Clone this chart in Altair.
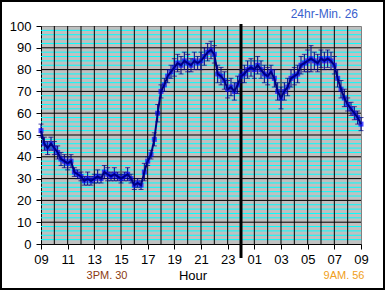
import altair as alt
import pandas as pd

# Hours since 09:00, every 15 minutes
times = [i * 0.25 for i in range(97)]
values = [52, 46, 44, 46, 44, 42, 39, 38, 37, 38, 33, 32, 31, 29, 30, 29,
          30, 31, 30, 33, 32, 31, 32, 31, 30, 31, 32, 30, 27, 28, 27, 33,
          38, 41, 48, 60, 70, 73, 77, 79, 81, 83, 82, 84, 83, 82, 84, 83,
          84, 86, 88, 89, 87, 78, 77, 75, 71, 72, 70, 73, 77, 78, 80, 81,
          80, 82, 80, 78, 77, 79, 76, 70, 67, 70, 72, 76, 77, 78, 82, 83,
          84, 85, 84, 83, 85, 84, 85, 84, 82, 76, 71, 67, 64, 62, 60, 58, 55]
spread = [3, 3, 3, 3, 3, 3, 3, 3, 3, 3, 2, 2, 2, 2, 3, 2,
          2, 3, 2, 3, 3, 2, 3, 2, 2, 2, 3, 2, 2, 2, 2, 4,
          2, 2, 3, 4, 3, 3, 3, 3, 4, 4, 4, 4, 4, 3, 4, 3,
          4, 4, 4, 4, 4, 4, 4, 4, 4, 4, 4, 4, 3, 4, 4, 4,
          4, 4, 4, 4, 4, 3, 4, 4, 5, 4, 4, 4, 4, 4, 4, 4,
          5, 6, 4, 4, 4, 4, 4, 4, 4, 4, 4, 4, 3, 3, 3, 3, 3]

x_ticks = list(range(0, 25, 2))
y_ticks = list(range(0, 101, 10))
hour_lines = list(range(1, 24))
midnight = [15]
y_major = list(range(10, 100, 10))
y_minor = [v for v in range(2, 100, 2) if v % 10 != 0]

df = pd.DataFrame({"t": times, "v": values, "s": spread})
df["lo"] = df["v"] - df["s"]
df["hi"] = df["v"] + df["s"]

xs = alt.Scale(domain=[0, 24], nice=False)
ys = alt.Scale(domain=[0, 100], nice=False)

label_expr = ("(((9 + datum.value) % 24) < 10 ? '0' : '') + ((9 + datum.value) % 24)")
x_axis = alt.Axis(
    values=x_ticks, labelExpr=label_expr, title=None, grid=False, labelOverlap=False,
    labelFlush=False, domainColor="#000000", tickColor="#000000", tickSize=5, labelPadding=4,
    labelFontSize=13, labelColor="#000000", labelFont="Liberation Sans")
y_axis = alt.Axis(
    values=y_ticks, title=None, grid=False, labelOverlap=False, labelFlush=False,
    domainColor="#000000", tickColor="#000000", tickSize=5, labelPadding=5,
    labelFontSize=13, labelColor="#000000", labelFont="Liberation Sans")


def X(f):
    return alt.X(f, type="quantitative", scale=xs, axis=x_axis)


def Y(f):
    return alt.Y(f, type="quantitative", scale=ys, axis=y_axis)


cyan = alt.Chart(pd.DataFrame({"y": y_minor})).mark_rule(color="#00ffff", strokeWidth=1).encode(
    y=Y("y"))
hmajor = alt.Chart(pd.DataFrame({"y": y_major})).mark_rule(color="#000000", strokeWidth=1).encode(
    y=Y("y"))
vlines = alt.Chart(pd.DataFrame({"x": hour_lines})).mark_rule(color="#000000", strokeWidth=1).encode(
    x=X("x"))
mid = alt.Chart(pd.DataFrame({"x": midnight})).mark_rule(color="#000000", strokeWidth=3).encode(
    x=X("x"), y=alt.value(-2), y2=alt.value(232))

base = alt.Chart(df)
whisk = base.mark_rule(color="#000080", strokeWidth=1).encode(
    x=X("t"), y=Y("lo"), y2="hi:Q")
cap_hi = base.mark_tick(orient="horizontal", color="#000080", size=5, thickness=1).encode(
    x=X("t"), y=Y("hi"))
cap_lo = base.mark_tick(orient="horizontal", color="#000080", size=5, thickness=1).encode(
    x=X("t"), y=Y("lo"))
boxes = base.mark_tick(orient="horizontal", color="#0000ff", size=5, thickness=5).encode(
    x=X("t"), y=Y("v"))
line = base.mark_line(color="#000080", strokeWidth=2).encode(
    x=X("t"), y=Y("v"))

one = pd.DataFrame({"k": [0]})


def txt(s, x, y, color, align="center", size=11):
    return alt.Chart(one).mark_text(text=s, color=color, align=align, baseline="middle",
                                    font="Liberation Sans", fontSize=size).encode(
        x=alt.value(x), y=alt.value(y))


t_min = txt("24hr-Min. 26", 317, -12, "#3a5fcd", align="right", size=12)
t_hour = txt("Hour", 152, 250, "#000000", size=13)
t_3pm = txt("3PM. 30", 66, 250, "#8b3a0f", size=11)
t_9am = txt("9AM. 56", 303, 250, "#f0a020", size=11)
frame = alt.Chart(one).mark_rect(filled=False, stroke="#000000", strokeWidth=2).encode(
    x=alt.value(-40), x2=alt.value(343), y=alt.value(-25), y2=alt.value(263))

chart = alt.layer(cyan, hmajor, vlines, mid, whisk, boxes, cap_hi, cap_lo, line,
                  t_min, t_hour, t_3pm, t_9am, frame).properties(
    width=320, height=218,
    autosize=alt.AutoSizeParams(type="none"),
    padding={"left": 41, "top": 26, "right": 24, "bottom": 46},
    background="#ffffff",
).configure_view(fill="#c0c0c0", stroke="#808080", strokeWidth=1)

chart.save("out.html", embed_options={"renderer": "svg", "actions": False})
